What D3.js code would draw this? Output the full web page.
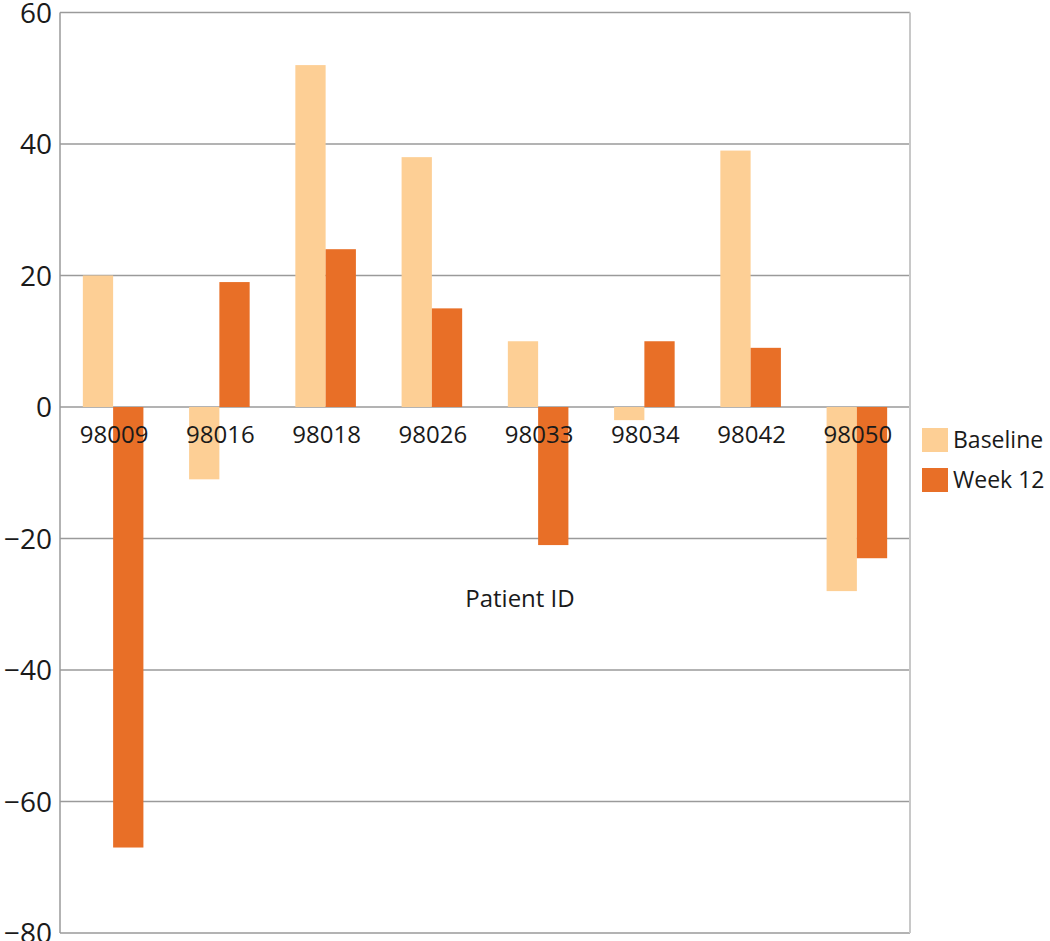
<!DOCTYPE html>
<html>
<head>
<meta charset="utf-8">
<script src="https://cdnjs.cloudflare.com/ajax/libs/d3/7.8.5/d3.min.js"></script>
<style>
  body { margin: 0; background: #fff; }
  text { font-family: "Open Sans", "Noto Sans", sans-serif; fill: #1a1a1a; }
</style>
</head>
<body>
<script>
// data
var patients = ["98009", "98016", "98018", "98026", "98033", "98034", "98042", "98050"];
var seriesNames = ["Baseline", "Week 12"];
var baseline = [20, -11, 52, 38, 10, -2, 39, -28];
var week12 = [-67, 19, 24, 15, -21, 10, 9, -23];
var yTicks = [-80, -60, -40, -20, 0, 20, 40, 60];
var colors = ["#fdcf95", "#e86f27"];

var width = 1050, height = 941;
var plotLeft = 60, plotRight = 910, plotTop = 12.5, plotBottom = 933;

var svg = d3.select("body").append("svg")
    .attr("width", width)
    .attr("height", height);

var x = d3.scaleBand().domain(patients).range([plotLeft, plotRight]).paddingInner(0.43).paddingOuter(0.215);
var xs = d3.scaleBand().domain(seriesNames).range([0, x.bandwidth()]);
var y = d3.scaleLinear().domain([-80, 60]).range([plotBottom, plotTop]);

// gridlines
svg.append("g").selectAll("line")
    .data(yTicks)
    .enter().append("line")
    .attr("x1", plotLeft).attr("x2", plotRight)
    .attr("y1", function (d) { return y(d); })
    .attr("y2", function (d) { return y(d); })
    .attr("stroke", "#9a9a9a")
    .attr("stroke-width", 1.5);

// right border (lighter) and left axis line
svg.append("line")
    .attr("x1", plotRight).attr("x2", plotRight).attr("y1", plotTop).attr("y2", plotBottom)
    .attr("stroke", "#c8c8c8").attr("stroke-width", 2);
svg.append("line")
    .attr("x1", plotLeft).attr("x2", plotLeft).attr("y1", plotTop).attr("y2", plotBottom)
    .attr("stroke", "#9a9a9a").attr("stroke-width", 1.5);

// y tick labels
svg.append("g").selectAll("text")
    .data(yTicks)
    .enter().append("text")
    .attr("x", plotLeft - 8)
    .attr("y", function (d) { return y(d); })
    .attr("dy", "0.36em")
    .attr("text-anchor", "end")
    .style("font-size", "28px")
    .text(function (d) { return d < 0 ? "\u2212" + Math.abs(d) : d; });

// bars
var rows = patients.map(function (p, i) {
    return { id: p, vals: [baseline[i], week12[i]] };
});
var groups = svg.append("g").selectAll("g")
    .data(rows)
    .enter().append("g")
    .attr("transform", function (d) { return "translate(" + x(d.id) + ",0)"; });

groups.selectAll("rect")
    .data(function (d) { return d.vals.map(function (v, j) { return { s: seriesNames[j], v: v, j: j }; }); })
    .enter().append("rect")
    .attr("x", function (d) { return xs(d.s); })
    .attr("width", xs.bandwidth())
    .attr("y", function (d) { return y(Math.max(0, d.v)); })
    .attr("height", function (d) { return Math.abs(y(d.v) - y(0)); })
    .attr("fill", function (d) { return colors[d.j]; });

// category labels just under the zero line
svg.append("g").selectAll("text")
    .data(patients)
    .enter().append("text")
    .attr("x", function (d) { return x(d) + x.bandwidth() / 2 + 1; })
    .attr("y", y(0) + 36)
    .attr("text-anchor", "middle")
    .style("font-size", "24px")
    .text(function (d) { return d; });

// axis title
svg.append("text")
    .attr("x", 520)
    .attr("y", 607)
    .attr("text-anchor", "middle")
    .style("font-size", "24px")
    .text("Patient ID");

// legend
var legend = svg.append("g").selectAll("g")
    .data(seriesNames)
    .enter().append("g")
    .attr("transform", function (d, i) { return "translate(922," + (428 + i * 40) + ")"; });
legend.append("rect")
    .attr("width", 26).attr("height", 24)
    .attr("fill", function (d, i) { return colors[i]; });
legend.append("text")
    .attr("x", 31).attr("y", 12).attr("dy", "0.36em")
    .style("font-size", "23px")
    .text(function (d) { return d; });
</script>
</body>
</html>
